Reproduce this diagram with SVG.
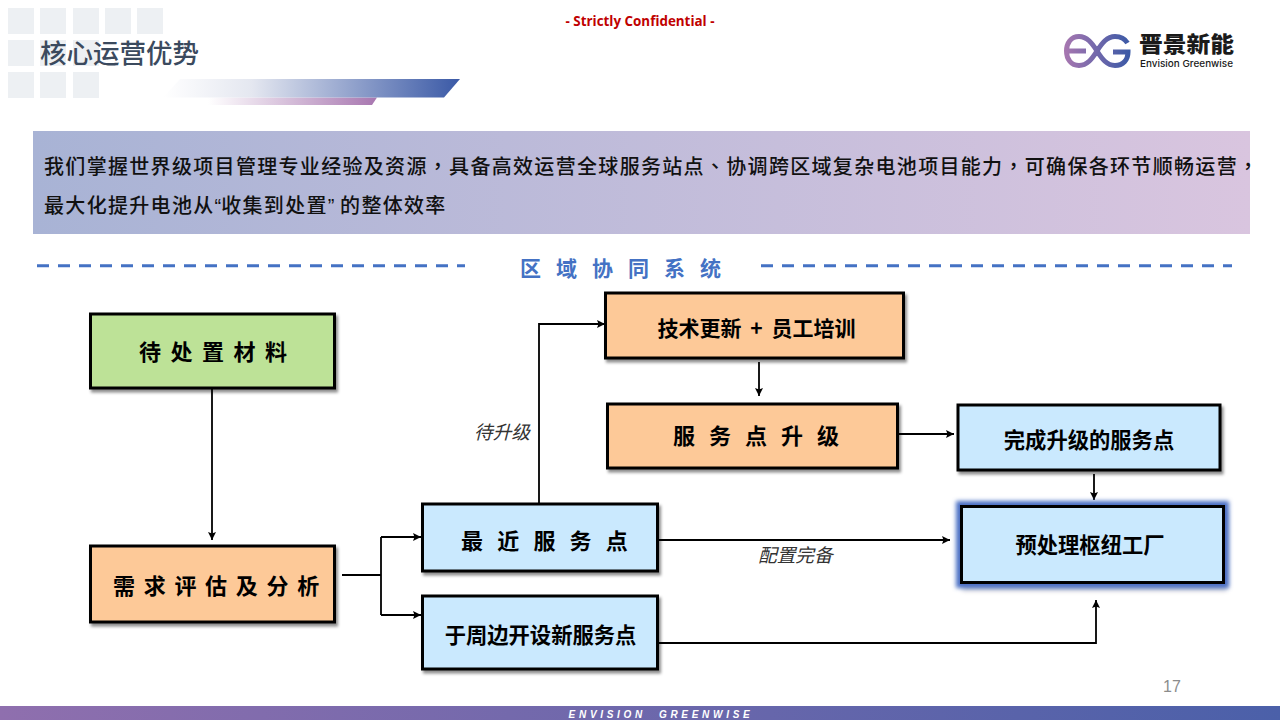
<svg xmlns="http://www.w3.org/2000/svg" width="1280" height="720" viewBox="0 0 1280 720">
<defs>
<linearGradient id="gBar" x1="0" x2="1" y1="0" y2="0"><stop offset="0" stop-color="#ffffff"/><stop offset="0.3" stop-color="#e4e7f0"/><stop offset="1" stop-color="#3a59a6"/></linearGradient>
<linearGradient id="gBar2" x1="0" x2="1" y1="0" y2="0"><stop offset="0" stop-color="#ffffff"/><stop offset="1" stop-color="#a877b0"/></linearGradient>
<linearGradient id="gBanner" x1="0" x2="1" y1="0" y2="0"><stop offset="0" stop-color="#a8b3d5"/><stop offset="1" stop-color="#d9c5df"/></linearGradient>
<linearGradient id="gFoot" x1="0" x2="1" y1="0" y2="0"><stop offset="0" stop-color="#8f6fae"/><stop offset="1" stop-color="#4b60a9"/></linearGradient>
<linearGradient id="gLogo" gradientUnits="userSpaceOnUse" x1="1064" x2="1130" y1="0" y2="0"><stop offset="0" stop-color="#a877b0"/><stop offset="1" stop-color="#3a59a6"/></linearGradient>
<filter id="sh" x="-5%" y="-10%" width="110%" height="125%"><feDropShadow dx="2" dy="3" stdDeviation="1.5" flood-color="#000" flood-opacity="0.45"/></filter>
<filter id="glow" x="-6%" y="-20%" width="112%" height="140%">
<feMorphology in="SourceAlpha" operator="dilate" radius="3.500" result="d"/>
<feGaussianBlur in="d" stdDeviation="2" result="b"/>
<feFlood flood-color="#4a6fc4" flood-opacity="1"/>
<feComposite in2="b" operator="in" result="g"/>
<feOffset in="SourceAlpha" dx="2" dy="6" result="o"/>
<feGaussianBlur in="o" stdDeviation="2.500" result="ob"/>
<feFlood flood-color="#000" flood-opacity="0.35"/>
<feComposite in2="ob" operator="in" result="s"/>
<feMerge><feMergeNode in="s"/><feMergeNode in="g"/><feMergeNode in="SourceGraphic"/></feMerge>
</filter>
<marker id="arr" markerUnits="userSpaceOnUse" markerWidth="9" markerHeight="8" refX="8" refY="4" orient="auto"><path d="M0 0L8 4L0 8L1.500 4Z" fill="#000"/></marker>
</defs>
<style>
text{font-family:"Liberation Sans","Noto Sans CJK SC",sans-serif}
.sq{fill:#edf0f3}
.n{stroke:#000;stroke-width:3;filter:url(#sh)}
.o{fill:#fdc998}.b{fill:#cae9fe}.g{fill:#bde297}
.t{font-family:"Noto Sans CJK SC",sans-serif;font-weight:700;fill:#000}
.m{text-anchor:middle}
.c{fill:none;stroke:#000;stroke-width:1.800}
.a{marker-end:url(#arr)}
.lab{font-family:"Noto Sans CJK SC",sans-serif;font-size:18.700px;font-style:italic;fill:#333}
.ban{font-family:"Noto Sans CJK SC",sans-serif;font-size:20px;font-weight:500;fill:#111}
.tc{font-family:"Noto Sans CJK TC",sans-serif}
.q{font-family:"Liberation Sans",sans-serif;letter-spacing:0}
</style>
<rect width="1280" height="720" fill="#fff"/>
<g id="header">
<g class="sq">
<rect x="8" y="8" width="26" height="26"/><rect x="40" y="8" width="26" height="26"/><rect x="73" y="8" width="26" height="26"/><rect x="105" y="8" width="26" height="26"/><rect x="137" y="8" width="26" height="26"/>
<rect x="8" y="40" width="26" height="26"/><rect x="40" y="40" width="26" height="26"/><rect x="73" y="40" width="26" height="26"/>
<rect x="8" y="72" width="26" height="26"/><rect x="40" y="72" width="26" height="26"/><rect x="73" y="72" width="26" height="26"/>
</g>
<text x="40" y="63" font-size="26.500" style="font-family:'Noto Sans CJK SC',sans-serif;font-weight:500" fill="#3b4a5e">核心运营优势</text>
<path d="M208 105H372L377 97.500H208Z" fill="url(#gBar2)"/>
<path d="M180 79H460L444 97.500H163Z" fill="url(#gBar)"/>
<text x="640" y="26" font-size="13.400" font-weight="700" fill="#c00000" text-anchor="middle" style="font-family:'Open Sans',sans-serif">- Strictly Confidential -</text>
</g>
<g id="logo">
<path d="M1097 51C1092 43 1087 36.500 1079 36.500C1071 36.500 1066.500 43 1066.500 51C1066.500 59 1071 65.500 1079 65.500C1087 65.500 1092 59 1097 51C1102 43 1107 36.500 1115 36.500C1121 36.500 1125 39 1127.500 43M1069 51H1086M1097 51C1102 59 1107 65.500 1115 65.500C1123 65.500 1128 60 1128 52H1113" fill="none" stroke="url(#gLogo)" stroke-width="5"/>
<text x="1139" y="52" font-size="22" textLength="95" lengthAdjust="spacingAndGlyphs" style="font-family:'Noto Sans CJK SC',sans-serif;font-weight:900" fill="#1a1a1a">晋景新能</text>
<text x="1140" y="67" font-size="9.500" textLength="93" lengthAdjust="spacingAndGlyphs" style="font-family:'Inter',sans-serif;font-weight:500" fill="#1a1a1a">Envision Greenwise</text>
</g>
<g id="banner">
<rect x="33" y="131" width="1217" height="103" fill="url(#gBanner)"/>
<text class="ban" x="44" y="174" letter-spacing="1.320">我们掌握世界级项目管理专业经验及资源<tspan class="tc">，</tspan>具备高效运营全球服务站点<tspan class="tc">、</tspan>协调跨区域复杂电池项目能力<tspan class="tc">，</tspan>可确保各环节顺畅运营<tspan class="tc">，</tspan></text>
<text class="ban" x="44" y="212.500" letter-spacing="1.320">最大化提升电池从<tspan class="q" font-size="20">“</tspan>收集到处置<tspan class="q" font-size="20">” </tspan>的整体效率</text>
</g>
<g id="section-title">
<line x1="37" y1="265.800" x2="465" y2="265.800" stroke="#4472c4" stroke-width="3" stroke-dasharray="12 9"/>
<line x1="761" y1="265.800" x2="1232" y2="265.800" stroke="#4472c4" stroke-width="3" stroke-dasharray="12 9"/>
<text x="520" y="276" font-size="21" letter-spacing="15" style="font-family:'Noto Sans CJK SC',sans-serif;font-weight:700" fill="#4472c4">区域协同系统</text>
</g>
<g id="connectors">
<path class="c a" d="M212 388V540"/>
<path class="c" d="M342 575H381M381 537V615"/>
<path class="c a" d="M381 537H421"/>
<path class="c a" d="M381 615H421"/>
<path class="c a" d="M539 503V324H605"/>
<path class="c a" d="M759 362V396"/>
<path class="c a" d="M899 434H954"/>
<path class="c a" d="M1094 474V500"/>
<path class="c a" d="M659 540H950"/>
<path class="c a" d="M659 643H1096V600"/>
<text class="lab" x="474" y="439">待升级</text>
<text class="lab" x="758" y="562">配置完备</text>
</g>
<g id="n-material"><rect class="n g" x="90.500" y="314" width="244" height="74"/><text class="t" x="139" y="360" font-size="22" letter-spacing="9.500">待处置材料</text></g>
<g id="n-assess"><rect class="n o" x="90.500" y="546" width="244" height="76"/><text class="t" x="113" y="594" font-size="22" letter-spacing="8.700">需求评估及分析</text></g>
<g id="n-training"><rect class="n o" x="605.500" y="293" width="298" height="65"/><text class="t m" x="756.500" y="336" font-size="21" word-spacing="4">技术更新 + 员工培训</text></g>
<g id="n-upgrade"><rect class="n o" x="607.500" y="404" width="290" height="64"/><text class="t" x="673" y="444" font-size="22" letter-spacing="14">服务点升级</text></g>
<g id="n-done"><rect class="n b" x="958" y="405" width="262" height="65"/><text class="t m" x="1089" y="448" font-size="21.300">完成升级的服务点</text></g>
<g id="n-nearest"><rect class="n b" x="422.500" y="504" width="235" height="67"/><text class="t" x="461" y="549" font-size="22" letter-spacing="14.200">最近服务点</text></g>
<g id="n-new"><rect class="n b" x="422.500" y="596" width="235" height="73"/><text class="t m" x="540.500" y="643" font-size="21.300">于周边开设新服务点</text></g>
<g id="n-hub"><rect x="961.500" y="506.500" width="262" height="76" fill="#cae9fe" stroke="#000" stroke-width="3" filter="url(#glow)"/><text class="t m" x="1090" y="553" font-size="21.300">预处理枢纽工厂</text></g>
<g id="footer">
<rect x="0" y="706" width="1280" height="14" fill="url(#gFoot)"/>
<text x="661" y="718" font-size="10" font-weight="700" font-style="italic" fill="#fff" text-anchor="middle" letter-spacing="3.700" xml:space="preserve">ENVISION  GREENWISE</text>
<text x="1172" y="692" font-size="16" fill="#8c8c8c" text-anchor="middle">17</text>
</g>
</svg>
